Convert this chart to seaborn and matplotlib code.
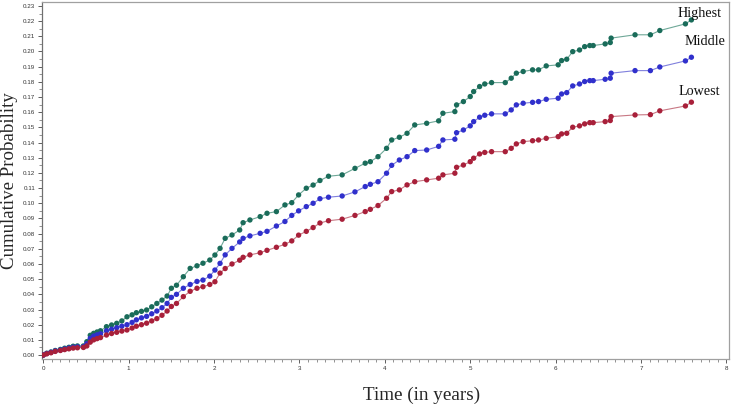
import pandas as pd
import matplotlib
matplotlib.use("Agg")
import matplotlib.pyplot as plt
from matplotlib.ticker import MultipleLocator
import seaborn as sns

# values
time = [0.00, 0.04, 0.09, 0.14, 0.20, 0.25, 0.30, 0.35, 0.40, 0.47,
        0.51, 0.55, 0.59, 0.63, 0.67, 0.74, 0.80, 0.86, 0.92, 0.98,
        1.04, 1.09, 1.15, 1.21, 1.27, 1.33, 1.39, 1.45, 1.50, 1.56,
        1.64, 1.72, 1.80, 1.87, 1.95, 2.01, 2.07, 2.13, 2.21, 2.30,
        2.34, 2.42, 2.54, 2.62, 2.73, 2.83, 2.91, 2.99, 3.08, 3.16,
        3.24, 3.34, 3.50, 3.65, 3.77, 3.83, 3.92, 4.02, 4.08, 4.17,
        4.26, 4.35, 4.49, 4.63, 4.68, 4.82, 4.84, 4.92, 5.00, 5.04,
        5.11, 5.17, 5.25, 5.41, 5.48, 5.54, 5.62, 5.73, 5.80, 5.89,
        6.03, 6.07, 6.13, 6.20, 6.28, 6.34, 6.40, 6.44, 6.58, 6.64,
        6.65, 6.93, 7.11, 7.22, 7.52, 7.59]

highest = [0.0000, 0.0012, 0.0020, 0.0030, 0.0037, 0.0045, 0.0051, 0.0058, 0.0060, 0.0060,
           0.0088, 0.0130, 0.0143, 0.0152, 0.0160, 0.0187, 0.0198, 0.0209, 0.0225, 0.0252,
           0.0265, 0.0279, 0.0288, 0.0297, 0.0318, 0.0340, 0.0362, 0.0389, 0.0440, 0.0460,
           0.0516, 0.0571, 0.0588, 0.0605, 0.0626, 0.0659, 0.0703, 0.0769, 0.0791, 0.0824,
           0.0872, 0.0890, 0.0912, 0.0934, 0.0945, 0.0989, 0.1004, 0.1055, 0.1099, 0.1120,
           0.1150, 0.1178, 0.1187, 0.1230, 0.1264, 0.1274, 0.1307, 0.1362, 0.1417, 0.1435,
           0.1461, 0.1516, 0.1527, 0.1543, 0.1593, 0.1604, 0.1648, 0.1670, 0.1703, 0.1736,
           0.1769, 0.1786, 0.1795, 0.1795, 0.1824, 0.1857, 0.1868, 0.1879, 0.1879, 0.1905,
           0.1912, 0.1940, 0.1949, 0.1999, 0.2010, 0.2032, 0.2039, 0.2039, 0.2050, 0.2059,
           0.2088, 0.2110, 0.2110, 0.2138, 0.2182, 0.2208]

middle = [0.0000, 0.0010, 0.0018, 0.0027, 0.0033, 0.0040, 0.0046, 0.0052, 0.0054, 0.0055,
          0.0075, 0.0110, 0.0125, 0.0133, 0.0140, 0.0160, 0.0170, 0.0180, 0.0190, 0.0200,
          0.0215, 0.0232, 0.0245, 0.0255, 0.0272, 0.0290, 0.0312, 0.0340, 0.0380, 0.0400,
          0.0440, 0.0465, 0.0485, 0.0494, 0.0520, 0.0560, 0.0604, 0.0660, 0.0703, 0.0745,
          0.0769, 0.0785, 0.0802, 0.0815, 0.0850, 0.0880, 0.0920, 0.0950, 0.0978, 0.1000,
          0.1030, 0.1040, 0.1048, 0.1075, 0.1110, 0.1125, 0.1142, 0.1198, 0.1250, 0.1285,
          0.1307, 0.1347, 0.1351, 0.1375, 0.1417, 0.1422, 0.1465, 0.1483, 0.1510, 0.1538,
          0.1567, 0.1580, 0.1589, 0.1589, 0.1615, 0.1648, 0.1659, 0.1665, 0.1670, 0.1685,
          0.1692, 0.1720, 0.1729, 0.1773, 0.1786, 0.1802, 0.1808, 0.1808, 0.1817, 0.1824,
          0.1857, 0.1874, 0.1874, 0.1898, 0.1938, 0.1962]

lowest = [0.0000, 0.0008, 0.0015, 0.0024, 0.0030, 0.0036, 0.0041, 0.0046, 0.0048, 0.0050,
          0.0060, 0.0085, 0.0100, 0.0108, 0.0115, 0.0132, 0.0142, 0.0150, 0.0158, 0.0165,
          0.0178, 0.0190, 0.0200, 0.0210, 0.0225, 0.0240, 0.0262, 0.0290, 0.0320, 0.0340,
          0.0385, 0.0420, 0.0440, 0.0450, 0.0465, 0.0483, 0.0540, 0.0570, 0.0600, 0.0625,
          0.0644, 0.0660, 0.0674, 0.0690, 0.0710, 0.0730, 0.0752, 0.0790, 0.0815, 0.0840,
          0.0870, 0.0885, 0.0895, 0.0920, 0.0945, 0.0960, 0.0985, 0.1033, 0.1077, 0.1088,
          0.1121, 0.1142, 0.1154, 0.1165, 0.1187, 0.1198, 0.1237, 0.1252, 0.1274, 0.1297,
          0.1325, 0.1335, 0.1340, 0.1340, 0.1362, 0.1391, 0.1406, 0.1412, 0.1417, 0.1428,
          0.1439, 0.1457, 0.1461, 0.1501, 0.1510, 0.1523, 0.1531, 0.1531, 0.1538, 0.1545,
          0.1571, 0.1582, 0.1584, 0.1609, 0.1641, 0.1666]

groups = ["Highest", "Middle", "Lowest"]
marker_colors = {"Highest": "#1a6c5a", "Middle": "#3030cc", "Lowest": "#a8203a"}
line_colors = {"Highest": "#6fa898", "Middle": "#8080dd", "Lowest": "#c87884"}

df = pd.DataFrame({
    "Time": time * 3,
    "Prob": highest + middle + lowest,
    "Group": [g for g in groups for _ in time],
})

sns.set_style("white")
plt.rcParams["font.family"] = ["Liberation Sans", "DejaVu Sans"]

fig = plt.figure(figsize=(7.33, 4.08), dpi=100)
ax = fig.add_axes([0.0573, 0.1201, 0.9372, 0.875])

# thin light lines first, then the dots on top
sns.lineplot(data=df, x="Time", y="Prob", hue="Group", palette=line_colors,
             linewidth=0.8, legend=False, ax=ax)
sns.scatterplot(data=df, x="Time", y="Prob", hue="Group", palette=marker_colors,
                s=15, linewidth=0, legend=False, ax=ax, zorder=3)

ax.set_xlim(-0.015, 8.03)
ax.set_ylim(-0.0026, 0.2326)
ax.xaxis.set_major_locator(MultipleLocator(1))
ax.xaxis.set_minor_locator(MultipleLocator(0.1))
ax.yaxis.set_major_locator(MultipleLocator(0.01))
ax.yaxis.set_minor_locator(MultipleLocator(0.005))
ax.xaxis.set_major_formatter(plt.FuncFormatter(lambda v, p: f"{v:.0f}"))
ax.yaxis.set_major_formatter(plt.FuncFormatter(lambda v, p: f"{v:.2f}"))
ax.tick_params(axis="both", which="major", length=3, width=0.6, color="#444444",
               labelsize=4.5, labelcolor="#333333", pad=2, direction="out",
               bottom=True, left=True)
ax.tick_params(axis="both", which="minor", length=2, width=0.5, color="#666666",
               direction="out", bottom=True, left=True)
ax.set_xlabel("")
ax.set_ylabel("")

for side in ["top", "right", "bottom"]:
    ax.spines[side].set_color("#a0a0a0")
    ax.spines[side].set_linewidth(0.9)
ax.spines["left"].set_color("#707070")
ax.spines["left"].set_linewidth(0.9)

serif = ["Liberation Serif", "DejaVu Serif"]
ax.text(7.69, 0.2248, "Highest", family=serif, fontsize=10.2, ha="center", va="center", color="#111111")
ax.text(7.754, 0.2067, "Middle", family=serif, fontsize=10.2, ha="center", va="center", color="#111111")
ax.text(7.683, 0.1734, "Lowest", family=serif, fontsize=10.2, ha="center", va="center", color="#111111")

fig.text(10 / 733, 1 - 181 / 408, "Cumulative Probability", family=serif, fontsize=13.6,
         rotation=90, ha="center", va="center")
fig.text(422 / 733, 1 - 395 / 408, "Time (in years)", family=serif, fontsize=13.8,
         ha="center", va="center")

fig.savefig("out.png", dpi=100)
